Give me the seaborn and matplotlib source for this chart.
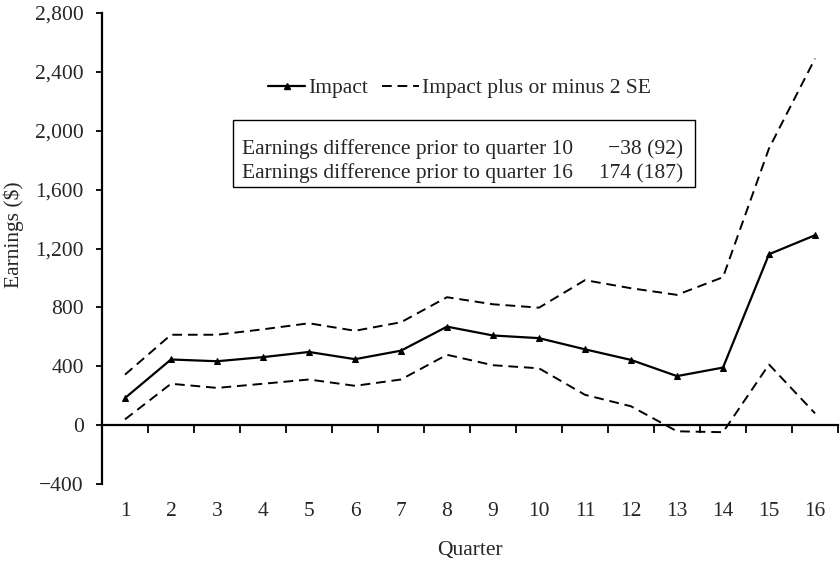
import matplotlib
matplotlib.use("Agg")
import matplotlib.pyplot as plt
import seaborn as sns
import pandas as pd
from matplotlib.lines import Line2D
from matplotlib.patches import Rectangle
from matplotlib.ticker import FuncFormatter, FixedLocator

quarters = list(range(1, 17))
impact = [184, 446, 434, 462, 497, 448, 506, 669, 609, 591, 515, 443, 333, 391, 1161, 1290]
upper = [343, 614, 614, 651, 692, 641, 699, 869, 821, 798, 985, 930, 885, 1005, 1880, 2490]
lower = [39, 281, 253, 281, 310, 267, 310, 478, 407, 386, 206, 128, -42, -48, 412, 80]
y_ticks = [-400, 0, 400, 800, 1200, 1600, 2000, 2400, 2800]
legend_labels = ["Impact", "Impact plus or minus 2 SE"]
box_rows = [("Earnings difference prior to quarter 10", "\u221238 (92)"),
            ("Earnings difference prior to quarter 16", "174 (187)")]

FS = 15.5
sns.set_style("white")
plt.rcParams["font.family"] = ["Liberation Serif", "DejaVu Serif"]
plt.rcParams["font.size"] = FS

df = pd.DataFrame({"Quarter": quarters, "Impact": impact, "Upper": upper, "Lower": lower})

fig = plt.figure(figsize=(8.4, 5.66), dpi=100)
ax = fig.add_axes([102/840, 1-484/566, 736/840, 471/566])

sns.lineplot(data=df, x="Quarter", y="Upper", ax=ax, color="black", lw=1.4,
             linestyle=(0, (5, 3)))
sns.lineplot(data=df, x="Quarter", y="Lower", ax=ax, color="black", lw=1.4,
             linestyle=(0, (5, 3)))
sns.lineplot(data=df, x="Quarter", y="Impact", ax=ax, color="black", lw=1.6,
             marker="^", markersize=5, markeredgecolor="black")

ax.set_xlim(0.5, 16.5)
ax.set_ylim(-400, 2800)
ax.set_yticks(y_ticks)
ax.yaxis.set_major_formatter(FuncFormatter(lambda v, p: f"{int(v):,}".replace("-", "\u2212")))

ax.spines["top"].set_visible(False)
ax.spines["right"].set_visible(False)
ax.spines["bottom"].set_position(("data", 0))
for s in ["left", "bottom"]:
    ax.spines[s].set_linewidth(1.6)
    ax.spines[s].set_color("black")

ax.xaxis.set_major_locator(FixedLocator([q + 0.5 for q in [0] + quarters]))
ax.xaxis.set_minor_locator(FixedLocator(quarters))
ax.xaxis.set_major_formatter(FuncFormatter(lambda v, p: ""))
ax.xaxis.set_minor_formatter(FuncFormatter(lambda v, p: f"{int(round(v))}"))
ax.tick_params(axis="x", which="major", direction="out", length=6, width=1.3, color="black", bottom=True)
ax.tick_params(axis="x", which="minor", length=0, pad=55, labelsize=FS, bottom=True)
ax.tick_params(axis="y", direction="out", length=4, width=1.3, color="black", left=True, labelsize=FS, pad=9)

ax.set_xlabel("")
ax.set_ylabel("")
fig.text(470/840, 1-550/566, "Quarter", ha="center", va="center", fontsize=FS)
fig.text(14/840, 1-235/566, "Earnings ($)", ha="center", va="center", rotation=90, fontsize=FS)

handles = [Line2D([], [], color="black", lw=1.6, marker="^", markersize=5),
           Line2D([], [], color="black", lw=1.4, linestyle=(0, (5, 3)))]
ax.legend(handles, legend_labels, ncol=2, frameon=False, loc="center",
          bbox_to_anchor=((459.5-102)/736, (484-88)/471), handlelength=1.7,
          handletextpad=0.15, columnspacing=0.65, fontsize=FS,
          borderpad=0, borderaxespad=0)

fig.patches.append(Rectangle((233/840, 1-187/566), (695-233)/840, 67/566,
                             transform=fig.transFigure, fill=False, ec="black", lw=1.0))
for i, (lab, val) in enumerate(box_rows):
    yy = 1 - (154 + 24*i)/566
    fig.text(242/840, yy, lab, ha="left", va="baseline", fontsize=FS)
    fig.text(683/840, yy, val, ha="right", va="baseline", fontsize=FS)

fig.savefig("out.png", dpi=100)
